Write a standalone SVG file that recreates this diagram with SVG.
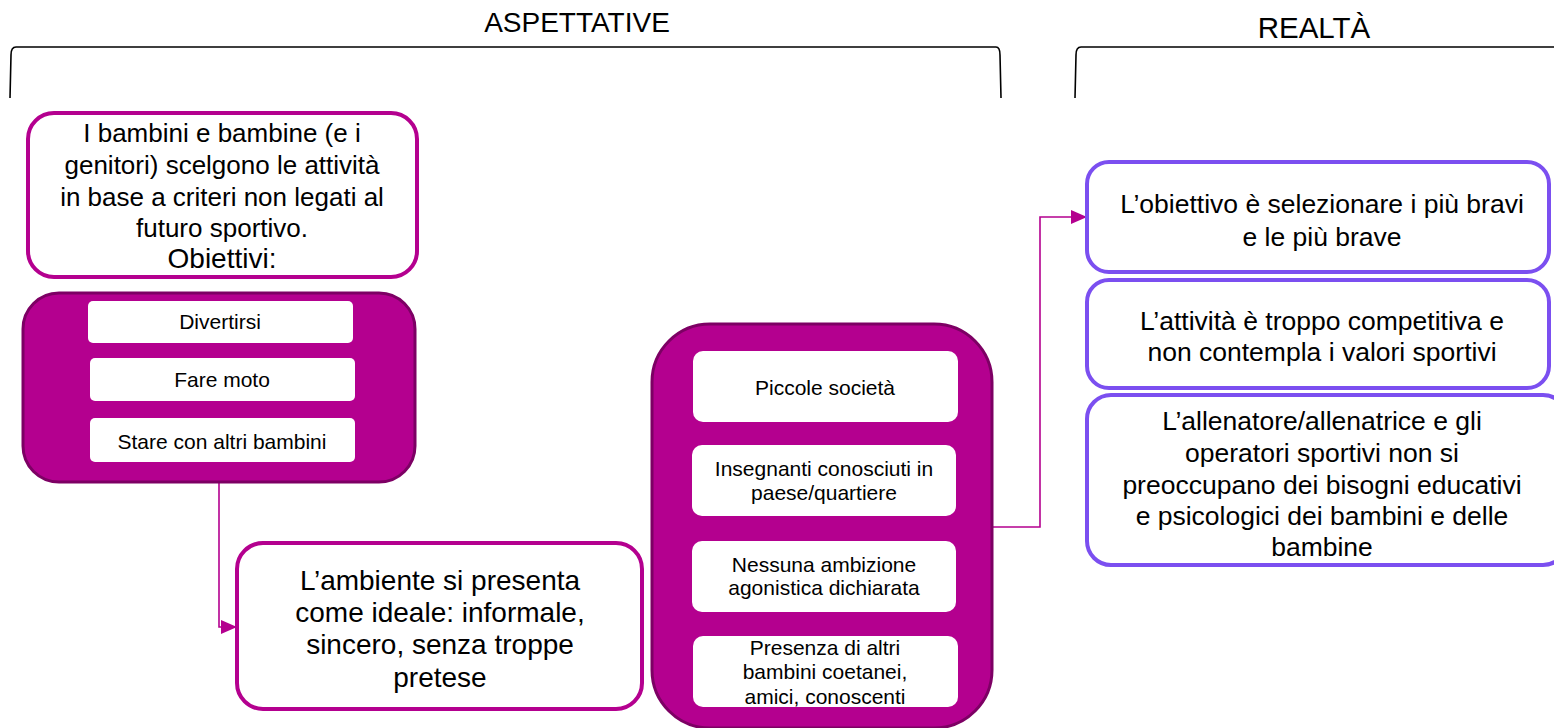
<svg xmlns="http://www.w3.org/2000/svg" width="1554" height="728" viewBox="0 0 1554 728">
<defs>
<style>
text{font-family:"Liberation Sans",Arial,sans-serif;fill:#000;text-anchor:middle}
.hd{font-size:28px}
.t26{font-size:26px}
.t28{font-size:28px}
.t27{font-size:26.5px}
.t21{font-size:21px}
.brace{fill:none;stroke:#000;stroke-width:1.6}
.mbox{fill:#fff;stroke:#b4008f;stroke-width:4}
.pbox{fill:#fff;stroke:#7b4ff0;stroke-width:4}
.cont{fill:#b4008f;stroke:#7d0064;stroke-width:3}
.inner{fill:#fff}
.conn{fill:none;stroke:#b4008f;stroke-width:1.6}
</style>
<marker id="arr2" viewBox="0 0 16 14" refX="16" refY="7" markerWidth="16" markerHeight="14" markerUnits="userSpaceOnUse" orient="auto"><path d="M0,0 L16,7 L0,14 z" fill="#b4008f"/></marker>
</defs>
<g id="headers">
<text class="hd" x="577" y="32">ASPETTATIVE</text>
<text class="hd" x="1314" y="38" style="font-size:29.5px">REALTÀ</text>
<path class="brace" d="M10,98 L11,55 Q11,47 16,47 L996,47 Q1000,47 1000,55 L1001,98"/>
<path class="brace" d="M1075,98 L1076,55 Q1076,47 1081,47 L1554,47"/>
</g>
<g id="connectors">
<path class="conn" d="M219,482 L219,627 L237,627" marker-end="url(#arr2)"/>
<path class="conn" d="M992,527 L1040,527 L1040,217 L1087,217" marker-end="url(#arr2)"/>
</g>
<g id="node-criteri">
<rect class="mbox" x="28" y="113" width="389" height="164" rx="26"/>
<text class="t26" x="222" y="142">I bambini e bambine (e i</text>
<text class="t26" x="222" y="174">genitori) scelgono le attività</text>
<text class="t26" x="222" y="206">in base a criteri non legati al</text>
<text class="t26" x="222" y="237">futuro sportivo.</text>
<text class="t28" x="222" y="268">Obiettivi:</text>
</g>
<g id="node-obiettivi">
<rect class="cont" x="23" y="293" width="392" height="189" rx="36"/>
<rect class="inner" x="88" y="301" width="265" height="42" rx="5"/>
<text class="t21" x="220" y="329">Divertirsi</text>
<rect class="inner" x="90" y="358" width="265" height="43" rx="5"/>
<text class="t21" x="222" y="387">Fare moto</text>
<rect class="inner" x="90" y="418" width="265" height="44" rx="5"/>
<text class="t21" x="222" y="449">Stare con altri bambini</text>
</g>
<g id="node-ambiente">
<rect class="mbox" x="237" y="543" width="405" height="166" rx="26"/>
<text class="t28" x="440" y="590">L’ambiente si presenta</text>
<text class="t28" x="440" y="622">come ideale: informale,</text>
<text class="t28" x="440" y="654">sincero, senza troppe</text>
<text class="t28" x="440" y="687">pretese</text>
</g>
<g id="node-societa">
<rect class="cont" x="652" y="324" width="340" height="404" rx="58"/>
<rect class="inner" x="693" y="351" width="265" height="71" rx="10"/>
<text class="t21" x="825" y="395">Piccole società</text>
<rect class="inner" x="692" y="445" width="264" height="71" rx="10"/>
<text class="t21" x="824" y="476">Insegnanti conosciuti in</text>
<text class="t21" x="824" y="500">paese/quartiere</text>
<rect class="inner" x="692" y="541" width="264" height="71" rx="10"/>
<text class="t21" x="824" y="572">Nessuna ambizione</text>
<text class="t21" x="824" y="595">agonistica dichiarata</text>
<rect class="inner" x="693" y="636" width="265" height="71" rx="10"/>
<text class="t21" x="825" y="655">Presenza di altri</text>
<text class="t21" x="825" y="679">bambini coetanei,</text>
<text class="t21" x="825" y="704">amici, conoscenti</text>
</g>
<g id="node-realta1">
<rect class="pbox" x="1087" y="162" width="462" height="110" rx="22"/>
<text class="t27" x="1322" y="213">L’obiettivo è selezionare i più bravi</text>
<text class="t27" x="1322" y="246">e le più brave</text>
</g>
<g id="node-realta2">
<rect class="pbox" x="1087" y="280" width="462" height="108" rx="22"/>
<text class="t27" x="1322" y="330">L’attività è troppo competitiva e</text>
<text class="t27" x="1322" y="361">non contempla i valori sportivi</text>
</g>
<g id="node-realta3">
<rect class="pbox" x="1087" y="395" width="480" height="170" rx="24"/>
<text class="t27" x="1322" y="430">L’allenatore/allenatrice e gli</text>
<text class="t27" x="1322" y="462">operatori sportivi non si</text>
<text class="t27" x="1322" y="494">preoccupano dei bisogni educativi</text>
<text class="t27" x="1322" y="525">e psicologici dei bambini e delle</text>
<text class="t27" x="1322" y="556">bambine</text>
</g>
</svg>
